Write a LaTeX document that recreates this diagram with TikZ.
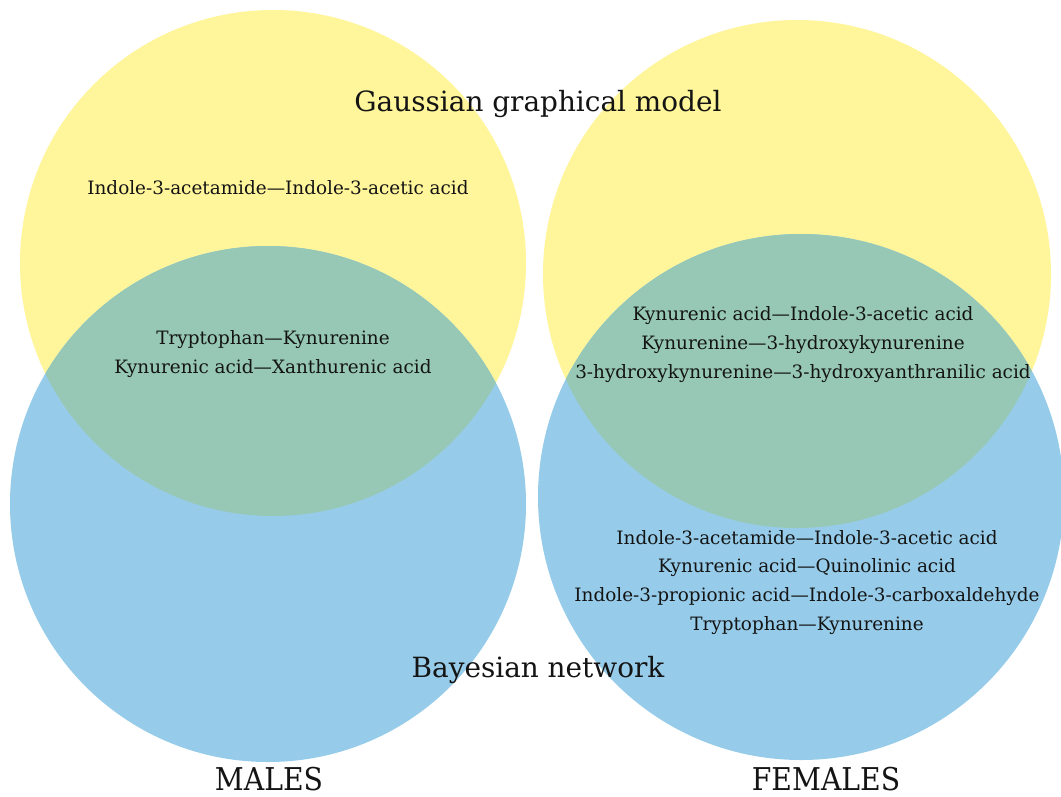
\documentclass[tikz,border=0pt]{standalone}
\usepackage{fontspec}
\setmainfont{DejaVu Serif}
\newfontfamily\condfont{DejaVu Serif Condensed}
\definecolor{venyellow}{HTML}{FFF59B}
\definecolor{venblue}{HTML}{96CCEA}
\definecolor{vengreen}{HTML}{96C8B5}
\definecolor{ventext}{HTML}{141414}
\begin{document}
\begin{tikzpicture}[x=1pt,y=-1pt,
  item/.style={text=ventext,font=\fontsize{18.4}{22}\selectfont,inner sep=0pt,anchor=center,text height=13pt,text depth=4pt},
  title/.style={text=ventext,font=\fontsize{27.9}{32}\selectfont,inner sep=0pt,anchor=center,text height=20pt,text depth=6pt},
  sex/.style={text=ventext,font=\condfont\fontsize{31.4}{36}\selectfont,inner sep=0pt,anchor=center,text height=23pt,text depth=0pt}]
\useasboundingbox (0,0) rectangle (1061,796);
\fill[white] (0,0) rectangle (1061,796);
% circles
\fill[venyellow] (273,263) circle[radius=253pt];
\fill[venyellow] (797,274) circle[radius=254pt];
\fill[venblue] (268,504) circle[radius=258pt];
\fill[venblue] (801,497) circle[radius=263pt];
\begin{scope}
  \clip (273,263) circle[radius=253pt];
  \fill[vengreen] (268,504) circle[radius=258pt];
\end{scope}
\begin{scope}
  \clip (797,274) circle[radius=254pt];
  \fill[vengreen] (801,497) circle[radius=263pt];
\end{scope}
% labels
\node[title] (ggm) at (538,104) {Gaussian graphical model};
\node[title] (bn) at (538,670) {Bayesian network};
\node[sex] (males) at (269,779) {MALES};
\node[sex] (females) at (826,779) {FEMALES};
\node[item] (m1) at (278,190) {Indole-3-acetamide—Indole-3-acetic acid};
\node[item] (m2) at (273,340) {Tryptophan—Kynurenine};
\node[item] (m3) at (273,369) {Kynurenic acid—Xanthurenic acid};
\node[item] (f1) at (803,316) {Kynurenic acid—Indole-3-acetic acid};
\node[item] (f2) at (803,345) {Kynurenine—3-hydroxykynurenine};
\node[item] (f3) at (803,374) {3-hydroxykynurenine—3-hydroxyanthranilic acid};
\node[item] (f4) at (807,540) {Indole-3-acetamide—Indole-3-acetic acid};
\node[item] (f5) at (807,568) {Kynurenic acid—Quinolinic acid};
\node[item] (f6) at (807,597) {Indole-3-propionic acid—Indole-3-carboxaldehyde};
\node[item] (f7) at (807,626) {Tryptophan—Kynurenine};
\end{tikzpicture}
\end{document}
